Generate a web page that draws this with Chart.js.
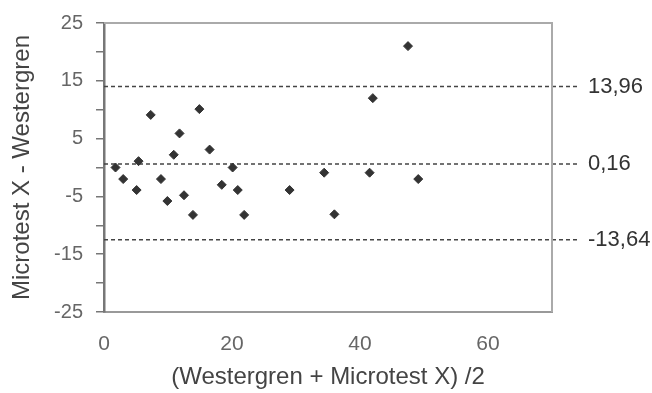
<!DOCTYPE html>
<html>
<head>
<meta charset="utf-8">
<script src="https://cdn.jsdelivr.net/npm/chart.js@4/dist/chart.umd.min.js"></script>
<style>
  html, body { margin: 0; padding: 0; background: #fff; }
</style>
</head>
<body>
<canvas id="grafik" width="652" height="393"></canvas>
<script>
// -------- DATA --------
const rataRata = [1.8, 3.0, 5.1, 5.4, 7.3, 8.9, 9.9, 10.9, 11.8, 12.5, 13.9, 14.9, 16.5, 18.4, 20.1, 20.9, 21.9, 29.0, 34.4, 36.0, 41.5, 42.0, 47.5, 49.1];
const selisih  = [0, -2.0, -3.9, 1.1, 9.1, -2.0, -5.8, 2.2, 5.9, -4.8, -8.2, 10.1, 3.1, -3.0, 0, -3.9, -8.2, -3.9, -0.9, -8.1, -0.9, 12.0, 21.0, -2.0];

// garis batas (posisi) dan labelnya
const garisNilai = [14, 0.6, -12.5];
const garisLabel = ["13,96", "0,16", "-13,64"];
const garisX = [0, 74.3];

const xTicks = [0, 20, 40, 60];
const yLabelTicks = [25, 15, 5, -5, -15, -25];

const titikData = rataRata.map((x, i) => ({ x: x, y: selisih[i] }));

const garisDatasets = garisNilai.map(v => ({
    type: "line",
    data: garisX.map(x => ({ x: x, y: v })),
    borderColor: "#444",
    borderWidth: 1.5,
    borderDash: [4, 3],
    pointRadius: 0,
    clip: false,
    fill: false
}));

// label kanan + bingkai atas/kanan
const pluginLabel = {
    id: "pluginLabel",
    afterDraw(chart) {
        const ctx = chart.ctx;
        const area = chart.chartArea;
        const ys = chart.scales.y;
        ctx.save();
        ctx.strokeStyle = "#aaa";
        ctx.lineWidth = 2;
        ctx.beginPath();
        ctx.moveTo(area.left, area.top);
        ctx.lineTo(area.right, area.top);
        ctx.lineTo(area.right, area.bottom);
        ctx.stroke();

        ctx.fillStyle = "#333";
        ctx.font = "22px 'Liberation Sans', Arial, sans-serif";
        ctx.textAlign = "left";
        ctx.textBaseline = "middle";
        garisNilai.forEach((v, i) => {
            ctx.fillText(garisLabel[i], area.right + 36, ys.getPixelForValue(v));
        });
        ctx.restore();
    }
};

Chart.defaults.font.family = "'Liberation Sans', Arial, sans-serif";

new Chart(document.getElementById("grafik"), {
    type: "scatter",
    data: {
        datasets: [{
            data: titikData,
            pointStyle: "rectRot",
            pointRadius: 4.5,
            pointBackgroundColor: "#333",
            pointBorderColor: "#333",
            order: 0
        }].concat(garisDatasets)
    },
    options: {
        responsive: false,
        animation: false,
        devicePixelRatio: 1,
        layout: { padding: { top: 19, right: 100, left: 0, bottom: 0 } },
        plugins: {
            legend: { display: false },
            tooltip: { enabled: false }
        },
        scales: {
            x: {
                type: "linear",
                min: 0,
                max: 70,
                afterBuildTicks: s => { s.ticks = xTicks.map(v => ({ value: v })); },
                grid: { display: false, drawTicks: false },
                border: { color: "#999", width: 2 },
                ticks: { color: "#666", font: { size: 21 }, padding: 20 },
                title: {
                    display: true,
                    text: "(Westergren + Microtest X) /2",
                    color: "#444",
                    font: { size: 24 },
                    padding: { top: 4, bottom: 1 }
                },
                afterFit: s => { s.height = 81; }
            },
            y: {
                min: -25,
                max: 25,
                ticks: {
                    stepSize: 5,
                    color: "#666",
                    font: { size: 20, lineHeight: 1 },
                    padding: 13,
                    callback: v => yLabelTicks.includes(v) ? v : ""
                },
                grid: { drawOnChartArea: false, drawTicks: true, tickLength: 8, color: "#777", lineWidth: 1.5 },
                border: { color: "#777", width: 2.5 },
                title: {
                    display: true,
                    text: "Microtest X - Westergren",
                    color: "#444",
                    font: { size: 24 },
                    padding: { top: 8, bottom: 4 }
                },
                afterFit: s => { s.width = 104; }
            }
        }
    },
    plugins: [pluginLabel]
});
</script>
</body>
</html>
